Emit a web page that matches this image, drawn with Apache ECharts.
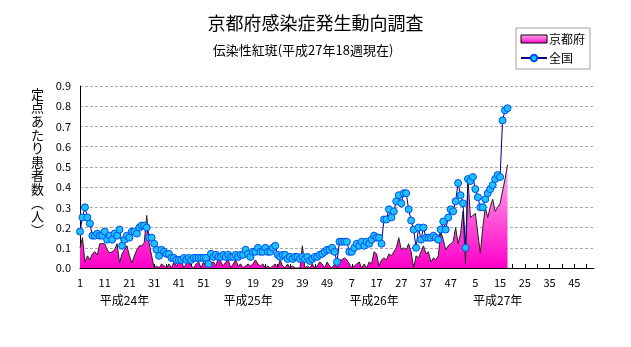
<!DOCTYPE html>
<html>
<head>
<meta charset="utf-8">
<script src="https://cdn.jsdelivr.net/npm/echarts@6/dist/echarts.min.js"></script>
<style>
html,body{margin:0;padding:0;background:#fff;}
#chart{width:631px;height:347px;}
</style>
</head>
<body>
<div id="chart"></div>
<script>
// Weeks per year: 平成24年, 平成25年, 平成26年, 平成27年
const yearNames = ['平成24年', '平成25年', '平成26年', '平成27年'];
const weeksPerYear = [52, 52, 52, 53];
// category index (week position) under which each year name is centred
const yearLabelWeekIndex = [18, 68, 119, 169];

// 京都府 (定点あたり患者数)
const kyoto = [
  0.10, 0.15, 0.03, 0.06, 0.04, 0.07, 0.08, 0.065, 0.12, 0.12,
  0.12, 0.09, 0.075, 0.08, 0.09, 0.12, 0.025, 0.07, 0.09, 0.11,
  0.06, 0.025, 0.06, 0.09, 0.11, 0.11, 0.125, 0.26, 0.12, 0.06,
  0.0, 0.01, 0.0, 0.02, 0.01, 0.0, 0.02, 0.0, 0.03, 0.01,
  0.03, 0.04, 0.0, 0.02, 0.03, 0.01, 0.0, 0.02, 0.03, 0.0,
  0.03, 0.01, 0.0, 0.02, 0.03, 0.01, 0.05, 0.03, 0.01, 0.03,
  0.04, 0.0, 0.02, 0.04, 0.01, 0.02, 0.0, 0.01, 0.02, 0.01,
  0.02, 0.04, 0.02, 0.01, 0.02, 0.0, 0.01, 0.0, 0.01, 0.02,
  0.0, 0.04, 0.01, 0.0, 0.02, 0.0, 0.01, 0.0, 0.0, 0.0,
  0.11, 0.0, 0.01, 0.0, 0.02, 0.0, 0.01, 0.03, 0.02, 0.0,
  0.03, 0.01, 0.0, 0.02, 0.0, 0.04, 0.04, 0.05, 0.04, 0.02,
  0.0, 0.01, 0.02, 0.03, 0.0, 0.02, 0.0, 0.03, 0.02, 0.08,
  0.07, 0.01, 0.04, 0.05, 0.04, 0.07, 0.06, 0.08, 0.10, 0.15,
  0.09, 0.10, 0.09, 0.12, 0.08, 0.0, 0.06, 0.05, 0.08, 0.11,
  0.07, 0.08, 0.03, 0.05, 0.04, 0.06, 0.18, 0.14, 0.09, 0.11,
  0.12, 0.13, 0.20, 0.12, 0.17, 0.28, 0.02, 0.44, 0.25, 0.26,
  0.27, 0.17, 0.075, 0.20, 0.30, 0.25, 0.30, 0.34, 0.28, 0.30,
  0.32, 0.38, 0.44, 0.51
];

// 全国 (定点あたり患者数)
const zenkoku = [
  0.18, 0.25, 0.30, 0.25, 0.22, 0.16, 0.16, 0.17, 0.16, 0.16,
  0.18, 0.14, 0.16, 0.14, 0.17, 0.16, 0.19, 0.11, 0.14, 0.16,
  0.15, 0.18, 0.18, 0.17, 0.20, 0.21, 0.21, 0.20, 0.15, 0.15,
  0.12, 0.09, 0.06, 0.09, 0.08, 0.07, 0.07, 0.05, 0.05, 0.04,
  0.04, 0.04, 0.05, 0.04, 0.05, 0.04, 0.05, 0.05, 0.05, 0.05,
  0.05, 0.05, 0.02, 0.07, 0.055, 0.065, 0.055, 0.055, 0.065, 0.055,
  0.065, 0.055, 0.055, 0.065, 0.055, 0.065, 0.065, 0.09, 0.07, 0.055,
  0.08, 0.08, 0.10, 0.08, 0.08, 0.10, 0.08, 0.08, 0.10, 0.11,
  0.065, 0.055, 0.065, 0.065, 0.045, 0.055, 0.045, 0.055, 0.055, 0.045,
  0.055, 0.045, 0.055, 0.035, 0.045, 0.055, 0.055, 0.065, 0.07, 0.08,
  0.09, 0.09, 0.10, 0.08, 0.03, 0.13, 0.13, 0.13, 0.13, 0.08,
  0.08, 0.10, 0.12, 0.11, 0.13, 0.11, 0.13, 0.12, 0.14, 0.16,
  0.15, 0.15, 0.12, 0.24, 0.24, 0.29, 0.25, 0.28, 0.33, 0.36,
  0.32, 0.37, 0.37, 0.29, 0.235, 0.19, 0.10, 0.20, 0.14, 0.20,
  0.15, 0.15, 0.15, 0.16, 0.15, 0.14, 0.19, 0.23, 0.19, 0.25,
  0.29, 0.28, 0.33, 0.42, 0.36, 0.32, 0.10, 0.44, 0.43, 0.45,
  0.39, 0.35, 0.30, 0.30, 0.34, 0.37, 0.39, 0.41, 0.44, 0.46,
  0.45, 0.73, 0.78, 0.79
];

const yTicks = [0, 0.1, 0.2, 0.3, 0.4, 0.5, 0.6, 0.7, 0.8, 0.9];

// build week categories (week number within each year)
const weeks = [];
weeksPerYear.forEach((n) => {
  for (let w = 1; w <= n; w++) { weeks.push(String(w)); }
});

const FONT = '"Noto Sans CJK JP", "Noto Sans", sans-serif';
const chart = echarts.init(document.getElementById('chart'), null, {renderer: 'canvas'});

const pink = new echarts.graphic.LinearGradient(0, 0, 0, 1, [
  {offset: 0, color: '#ffb0ee'},
  {offset: 1, color: '#ff00c8'}
]);

chart.setOption({
  animation: false,
  backgroundColor: '#ffffff',
  title: [{
    text: '京都府感染症発生動向調査',
    left: 'center',
    top: 9,
    textStyle: {fontFamily: FONT, fontSize: 18, fontWeight: 'normal', color: '#000'}
  }, {
    text: '伝染性紅斑(平成27年18週現在)',
    left: 298,
    textAlign: 'center',
    top: 39,
    textStyle: {fontFamily: FONT, fontSize: 13, fontWeight: 'normal', color: '#000'}
  }],
  legend: {
    orient: 'vertical',
    left: 516,
    top: 28,
    padding: [5, 5, 5, 4],
    itemGap: 7,
    itemWidth: 26,
    itemHeight: 8,
    borderColor: '#a0a0a0',
    borderWidth: 1,
    backgroundColor: '#fff',
    textStyle: {fontFamily: FONT, fontSize: 12, color: '#000', padding: [0, 0, 0, -3]},
    data: [
      {name: '京都府', icon: 'rect', itemStyle: {color: pink, borderColor: '#000', borderWidth: 1}},
      {name: '全国'}
    ]
  },
  grid: {left: 80, right: 37, top: 86, bottom: 79, containLabel: false},
  graphic: [{
    type: 'text',
    left: 31,
    top: 87,
    style: {
      text: '定\n点\nあ\nた\nり\n患\n者\n数\n︵\n人\n︶',
      font: '13px ' + FONT,
      lineHeight: 13.6,
      fill: '#000',
      align: 'center'
    }
  }],
  xAxis: [{
    type: 'category',
    data: weeks,
    boundaryGap: false,
    axisLine: {show: true, lineStyle: {color: '#000', width: 1}},
    axisTick: {show: true, inside: true, interval: 4, length: 4, lineStyle: {color: '#000'}},
    axisLabel: {interval: 9, margin: 9, fontFamily: FONT, fontSize: 11, color: '#000'},
    splitLine: {show: false}
  }, {
    type: 'category',
    data: weeks,
    boundaryGap: false,
    position: 'bottom',
    offset: 17,
    axisLine: {show: false},
    axisTick: {show: false},
    axisLabel: {
      interval: (idx) => yearLabelWeekIndex.includes(idx),
      formatter: (v, idx) => yearNames[yearLabelWeekIndex.indexOf(idx)] || '',
      margin: 9,
      fontFamily: FONT, fontSize: 12, color: '#000'
    }
  }],
  yAxis: {
    type: 'value',
    min: yTicks[0],
    max: yTicks[yTicks.length - 1],
    interval: 0.1,
    axisLine: {show: true, lineStyle: {color: '#000', width: 1}},
    axisTick: {show: false},
    axisLabel: {margin: 9, fontFamily: FONT, fontSize: 11, color: '#000', formatter: v => v.toFixed(1)},
    splitLine: {show: true, lineStyle: {color: '#a8a8a8', type: [3, 2], width: 1}}
  },
  series: [{
    name: '京都府',
    type: 'line',
    xAxisIndex: 0,
    data: kyoto,
    symbol: 'none',
    showSymbol: false,
    lineStyle: {color: '#222', width: 1},
    itemStyle: {color: pink, borderColor: '#000'},
    areaStyle: {color: pink, opacity: 1},
    z: 2
  }, {
    name: '全国',
    type: 'line',
    xAxisIndex: 0,
    data: zenkoku,
    symbol: 'circle',
    symbolSize: 7,
    showAllSymbol: true,
    lineStyle: {color: '#000080', width: 1},
    itemStyle: {color: '#1ec0ff', borderColor: '#0050f0', borderWidth: 1},
    z: 3
  }]
});
</script>
</body>
</html>
